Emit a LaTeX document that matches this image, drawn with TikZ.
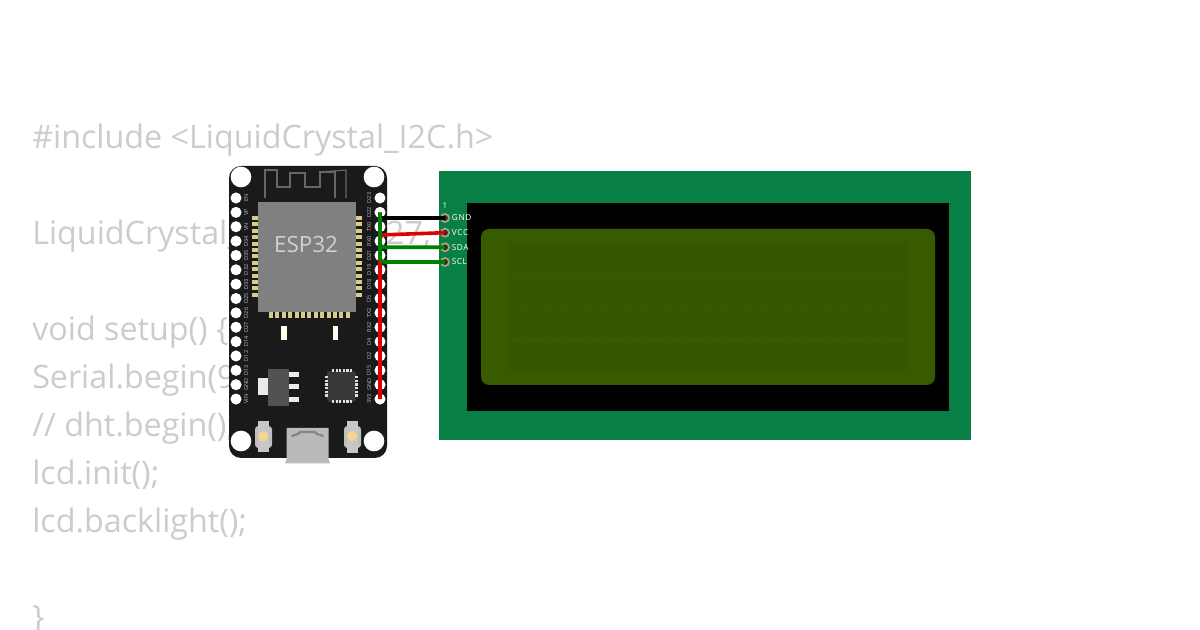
\documentclass[tikz,border=0pt]{standalone}
\usepackage{fontspec}
\setmainfont{Open Sans}
\definecolor{codegray}{HTML}{CCCCCC}
\definecolor{boardblack}{HTML}{1A1A1A}
\definecolor{chipgray}{HTML}{808080}
\definecolor{padgold}{HTML}{D8CC8A}
\definecolor{lcdgreen}{HTML}{087F45}
\definecolor{lcdscreen}{HTML}{385B00}
\definecolor{lcdcell}{HTML}{345700}
\definecolor{wiregreen}{HTML}{008000}
\definecolor{wirered}{HTML}{E00000}
\definecolor{ringgray}{HTML}{A89F7E}
\definecolor{ledgold}{HTML}{F5D68C}
\tikzset{
  codeline/.style={anchor=base west,inner sep=0pt,text=codegray,font=\fontsize{24.2}{24.2}\selectfont},
  pinhole/.style={circle,fill=white,inner sep=0pt,minimum size=8.3pt},
  mounthole/.style={circle,fill=white,inner sep=0pt,minimum size=15.5pt},
  pinlabel/.style={rotate=90,inner sep=0pt,text=white!72!black,font=\fontsize{4.2}{4.2}\selectfont},
  wirepath/.style={line width=2.7pt,rounded corners=3pt},
  lcdpin/.style={circle,draw=ringgray,fill=black!75!ringgray,line width=1.4pt,inner sep=0pt,minimum size=6pt},
  lcdlabel/.style={anchor=west,inner sep=0pt,text=white,font=\fontsize{6.2}{6.2}\selectfont,text width=24pt},
  smalllight/.style={fill=white!92!yellow},
}
\begin{document}
\begin{tikzpicture}[x=0.75pt,y=-0.75pt]
\useasboundingbox (0,0) rectangle (1200,630);
\fill[white] (0,0) rectangle (1200,630);
% code behind the parts
\begin{scope}
\clip (0,0) rectangle (1200,630);
\node[codeline] (c1) at (32,148.5) {\#include <LiquidCrystal\_I2C.h>};
\node[codeline] (c2) at (32,244.5) {LiquidCrystal\_I2C lcd(0x27, 16, 2);};
\node[codeline] (c3) at (32,340.5) {void setup() \{};
\node[codeline] (c4) at (32,388.5) {Serial.begin(9600);};
\node[codeline] (c5) at (32,436.5) {// dht.begin();};
\node[codeline] (c6) at (32,484.5) {lcd.init();};
\node[codeline] (c7) at (32,532.5) {lcd.backlight();};
\node[codeline] (c8) at (32,628.5) {\}};
\end{scope}
% LCD
\fill[lcdgreen] (439,171) rectangle (971,440);
\fill[black] (467,203) rectangle (949,411);
\fill[lcdscreen,rounded corners=6pt] (481,229) rectangle (935,385);
\foreach \i in {0,...,19}\foreach \j in {0,...,3}{
  \fill[lcdcell] ({508+20*\i},{243+32.6*\j}) rectangle ++(18.6,31);
}
\node[lcdpin] (gnd) at (445,218) {};
\node[lcdpin] (vcc) at (445,232.7) {};
\node[lcdpin] (sda) at (445,247.3) {};
\node[lcdpin] (scl) at (445,262) {};
\node[anchor=center,inner sep=0pt,text=white,font=\fontsize{6}{6}\selectfont] (one) at (445,206) {1};
\node[lcdlabel] (lgnd) at (451.5,218) {G\kern.6pt N\kern.4pt D};
\node[lcdlabel] (lvcc) at (451.5,232.7) {V\kern.5pt C\kern.4pt C};
\node[lcdlabel] (lsda) at (451.5,247.3) {S\kern.4pt D\kern.4pt A};
\node[lcdlabel] (lscl) at (451.5,262) {S\kern.4pt C\kern.4pt L};
% board
\fill[boardblack,rounded corners=9pt] (229,166) rectangle (387,458);
\node[mounthole] (m1) at (241,177) {};
\node[mounthole] (m2) at (374,177) {};
\node[mounthole] (m3) at (241,441) {};
\node[mounthole] (m4) at (374,441) {};
\foreach \n/\t [count=\k from 0] in {1/EN,2/VP,3/VN,4/D34,5/D35,6/D32,7/D33,8/D25,9/D26,10/D27,11/D14,12/D12,13/D13,14/GND,15/VIN}{
  \node[pinhole] (L\n) at (236,{198+14.36*\k}) {};
  \node[pinlabel] (LT\n) at (246,{198+14.36*\k}) {\t};
}
\foreach \n/\t [count=\k from 0] in {1/D23,2/D22,3/TX0,4/RX0,5/D21,6/D19,7/D18,8/D5,9/TX2,10/RX2,11/D4,12/D2,13/D15,14/GND,15/3V3}{
  \node[pinhole] (R\n) at (380,{198+14.36*\k}) {};
  \node[pinlabel] (RT\n) at (369,{198+14.36*\k}) {\t};
}
% antenna trace
\draw[chipgray!80!black,line width=.8pt] (265,198) -- (265,170) -- (277,170) -- (277,187) -- (290,187) -- (290,173) -- (305,173) -- (305,187) -- (320,187) -- (320,172) -- (335,172) -- (335,198);
\draw[chipgray!80!black,line width=.8pt] (320,172) -- (346,170) -- (346,198);
% module
\foreach \k in {0,...,12}{
  \fill[padgold] (252,{216+6.4*\k}) rectangle ++(6,4);
  \fill[padgold] (356,{216+6.4*\k}) rectangle ++(6,4);
  \fill[padgold] ({269+6.4*\k},312) rectangle ++(4,6);
}
\fill[chipgray] (258,202) rectangle (356,312);
\node[inner sep=0pt,text=white!82!black,font=\fontsize{16.8}{16.8}\selectfont] (esp) at (306,245) {ESP32};
% small parts
\fill[smalllight] (281,326) rectangle (286.5,340);
\fill[smalllight] (332.5,326) rectangle (338,340);
\fill[white!92!black] (257.5,378) rectangle (268,395.5);
\fill[black!68] (268,369) rectangle (289,406);
\fill[white!92!black] (289,372.5) rectangle (298.5,377);
\fill[white!92!black] (289,384) rectangle (298.5,389);
\fill[white!92!black] (289,397.5) rectangle (298.5,402.5);
\fill[black!78,rounded corners=2pt] (327,371) rectangle (356,402);
\foreach \k in {0,...,5}{
  \fill[white!88!black] ({332+3.6*\k},369.5) rectangle ++(2.2,3);
  \fill[white!88!black] ({332+3.6*\k},400.5) rectangle ++(2.2,3);
  \fill[white!88!black] (325,{376+3.7*\k}) rectangle ++(3,2.2);
  \fill[white!88!black] (355,{376+3.7*\k}) rectangle ++(3,2.2);
}
% buttons
\fill[white!75!black,rounded corners=2.5pt] (255,426) rectangle (272,448);
\fill[white!78!black] (258,421.5) rectangle (269,452);
\fill[white!75!black,rounded corners=2.5pt] (344,426) rectangle (361,448);
\fill[white!78!black] (347,421.5) rectangle (358,453);
\node[circle,fill=ledgold,inner sep=0pt,minimum size=7.5pt] (b1) at (263,436.5) {};
\node[circle,fill=ledgold,inner sep=0pt,minimum size=7.5pt] (b2) at (352,436) {};
% usb
\fill[white!73!black] (286.5,428) -- (328.5,428) -- (328.5,459) -- (330,463.5) -- (285,463.5) -- (286.5,459) -- cycle;
\draw[white!52!black,line width=1.6pt,line cap=round] (292,436) -- (298,434) -- (300,432) -- (315,432) -- (317,434) -- (323,436);
% wires
\coordinate (redbend) at (380,235);
\draw[wirepath,black] (R2.center |- gnd.center) -- (gnd.center);
\draw[wirepath,wirered] (R15.center) -- (redbend) -- (vcc.center);
\draw[wirepath,wiregreen] (R2.center) |- (sda.center);
\draw[wirepath,wiregreen] (R2.center) |- (scl.center);
\end{tikzpicture}
\end{document}
